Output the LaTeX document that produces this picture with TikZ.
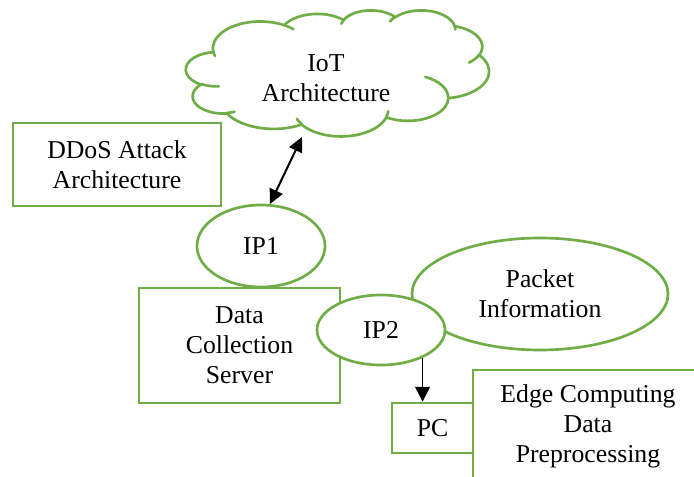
\documentclass[tikz,border=0pt]{standalone}
\usepackage{fontspec}
\setmainfont{Liberation Serif}
\usetikzlibrary{shapes.geometric,arrows.meta}
\definecolor{leaf}{HTML}{70AD47}

% Append an elliptical arc to a path macro; the start and sweep angles are
% measured as seen on the ellipse, so they are turned into parametric angles.
\newcommand\addcloudarc[5]{% #1 path macro, #2 x radius, #3 y radius, #4 start, #5 sweep
  \pgfmathsetmacro\cta{atan2(#2*sin(#4),#3*cos(#4))}%
  \pgfmathsetmacro\ctb{atan2(#2*sin(#4+#5),#3*cos(#4+#5))}%
  \pgfmathsetmacro\ctd{\ctb-\cta}%
  \pgfmathsetmacro\ctd{\ctd+360*(#5>0)*(\ctd<0)-360*(#5<0)*(\ctd>0)}%
  \xdef#1{#1 arc[x radius=#2, y radius=#3, start angle=\cta, delta angle=\ctd]}%
}
\newcommand\cloudouter{}
\newcommand\cloudinner{}
% outline of the cloud, in a 100 x 100 frame
\addcloudarc\cloudouter{15.632}{21.273}{-190.487}{123.781}
\addcloudarc\cloudouter{12.345}{16.822}{-144.102}{89.945}
\addcloudarc\cloudouter{10.104}{13.762}{-145.808}{99.723}
\addcloudarc\cloudouter{11.243}{15.266}{-130.986}{117.242}
\addcloudarc\cloudouter{12.345}{16.836}{-78.709}{109.027}
\addcloudarc\cloudouter{15.683}{21.343}{-46.267}{130.269}
\addcloudarc\cloudouter{13.391}{18.211}{0.625}{114.033}
\addcloudarc\cloudouter{15.630}{21.331}{22.452}{115.173}
\addcloudarc\cloudouter{17.870}{24.405}{66.243}{75.711}
\addcloudarc\cloudouter{10.093}{13.699}{-274.942}{146.736}
\addcloudarc\cloudouter{10.058}{13.762}{-246.829}{152.519}
% short inner strokes of the cloud
\newcommand\innerstroke[6]{\xdef\cloudinner{\cloudinner (#1,#2)}\addcloudarc\cloudinner{#3}{#4}{#5}{#6}}
\innerstroke{10.863}{60.595}{10.058}{13.762}{86.742}{26.430}
\innerstroke{16.037}{80.785}{10.093}{13.699}{73.610}{11.447}
\innerstroke{38.144}{90.486}{15.630}{21.331}{137.624}{14.081}
\innerstroke{66.729}{80.442}{15.630}{21.331}{6.453}{15.998}
\innerstroke{79.002}{53.134}{13.391}{18.211}{-70.292}{70.917}
\innerstroke{96.755}{35.542}{12.345}{16.836}{30.318}{27.752}
\innerstroke{88.713}{12.560}{11.243}{15.266}{-13.744}{14.859}
\innerstroke{67.310}{9.148}{11.243}{15.266}{-149.181}{18.195}
\innerstroke{51.252}{10.926}{10.104}{13.762}{-163.494}{17.686}
\innerstroke{32.407}{12.019}{15.632}{21.273}{-66.707}{12.319}
\innerstroke{9.553}{36.549}{15.632}{21.273}{157.654}{11.858}

\tikzset{
  greenline/.style={draw=leaf, line width=2pt},
  box/.style={greenline, fill=white, rectangle, align=center, inner sep=0pt},
  oval/.style={greenline, fill=white, ellipse, align=center, inner sep=0pt},
  plain/.style={align=center, inner sep=0pt},
  link/.style={draw=black, line width=1.5pt},
  thinlink/.style={draw=black, line width=1.3pt},
  tip/.style={-{Triangle[length=11pt,width=11pt]}},
  twotips/.style={{Triangle[length=11pt,width=10.5pt]}-{Triangle[length=11pt,width=10.5pt]}},
}

\begin{document}
\begin{tikzpicture}[x=0.75pt, y=-0.75pt, font=\fontsize{19.3}{22.5}\selectfont]
\useasboundingbox (0,0) rectangle (694,477);
\clip (0,0) rectangle (694,477);
\fill[white] (0,0) rectangle (694,477);

% cloud
\begin{scope}[shift={(186,10)}, x=2.2725pt, y=-0.945pt]
  \draw[greenline, fill=white, line join=round] (9.028,33.264) \cloudouter -- cycle;
  \draw[greenline, line cap=round] \cloudinner;
\end{scope}
\node[plain] (cloud) at (326,78) {IoT\\Architecture};
\coordinate (cloudrim) at (302,137);

\node[box, minimum width=156pt, minimum height=62.25pt] (ddos) at (117,164.5) {DDoS Attack\\Architecture};
\node[oval, minimum width=96pt, minimum height=61.5pt] (ip1) at (261,246) {IP1};
\node[box, minimum width=150.75pt, minimum height=86.25pt] (dcs) at (239.5,345.5) {Data\\Collection\\Server};
\node[oval, minimum width=192pt, minimum height=84pt] (pkt) at (540,294) {Packet\\Information};
\node[oval, minimum width=96pt, minimum height=52.5pt] (ip2) at (381,330) {IP2};
\node[box, minimum width=172.5pt, minimum height=84pt] (edge) at (588,426) {Edge Computing\\Data\\Preprocessing};
\node[box, minimum width=60.75pt, minimum height=37.5pt] (pc) at (432.5,428) {PC};

\draw[link, twotips] (ip1.78) -- (cloudrim);
\draw[thinlink, tip] (ip2.-34) -- (ip2.-34 |- pc.north);
\end{tikzpicture}
\end{document}
